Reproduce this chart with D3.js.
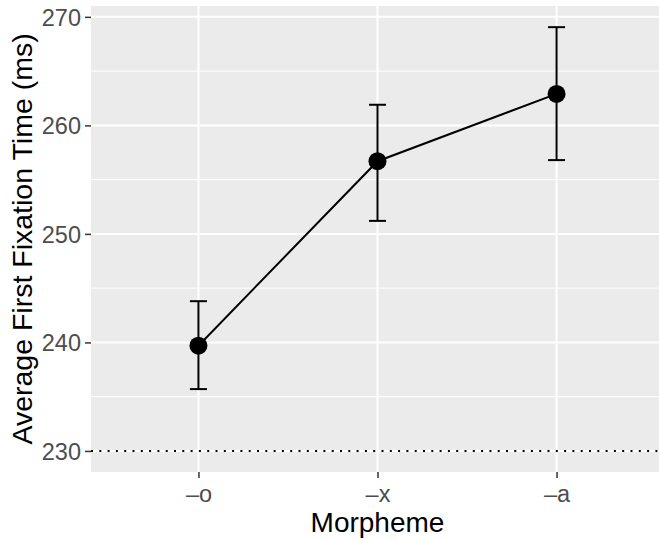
<!DOCTYPE html>
<html>
<head>
<meta charset="utf-8">
<script src="https://cdn.jsdelivr.net/npm/d3@7"></script>
<style>
  body { margin: 0; background: #fff; }
  text { font-family: "Liberation Sans", Arial, sans-serif; }
</style>
</head>
<body>
<div id="chart"></div>
<script>
// data
var morphemes = ["\u2013o", "\u2013x", "\u2013a"];
var means = [239.7, 256.7, 262.9];
var lower = [235.7, 251.2, 256.8];
var upper = [243.8, 261.9, 269.05];
var yTicks = [230, 240, 250, 260, 270];
var yMinor = [235, 245, 255, 265];
var refLine = 230;

var W = 659, H = 539;
var margin = {top: 6, left: 91, bottom: 67};
var plotW = 573, plotH = H - margin.top - margin.bottom;

var svg = d3.select("#chart").append("svg")
  .attr("width", W).attr("height", H);

var g = svg.append("g")
  .attr("transform", "translate(" + margin.left + "," + margin.top + ")");

var x = d3.scalePoint()
  .domain(morphemes)
  .range([0, plotW])
  .padding(0.6);

var y = d3.scaleLinear()
  .domain([228.06, 271.0])
  .range([plotH, 0]);

// panel
g.append("rect")
  .attr("width", plotW).attr("height", plotH)
  .attr("fill", "#EBEBEB");

// minor grid
g.selectAll(".minor")
  .data(yMinor)
  .enter().append("line")
  .attr("x1", 0).attr("x2", plotW)
  .attr("y1", d => y(d)).attr("y2", d => y(d))
  .attr("stroke", "#fff").attr("stroke-width", 1);

// major grid
g.selectAll(".majorY")
  .data(yTicks)
  .enter().append("line")
  .attr("x1", 0).attr("x2", plotW)
  .attr("y1", d => y(d)).attr("y2", d => y(d))
  .attr("stroke", "#fff").attr("stroke-width", 2);

g.selectAll(".majorX")
  .data(morphemes)
  .enter().append("line")
  .attr("x1", d => x(d)).attr("x2", d => x(d))
  .attr("y1", 0).attr("y2", plotH)
  .attr("stroke", "#fff").attr("stroke-width", 2);

// dotted reference line
g.append("line")
  .attr("x1", 0).attr("x2", plotW)
  .attr("y1", y(refLine)).attr("y2", y(refLine))
  .attr("stroke", "#000").attr("stroke-width", 2)
  .attr("stroke-dasharray", "2,6.3");

// axes
var yAxis = g.append("g")
  .call(d3.axisLeft(y).tickValues(yTicks).tickSize(6).tickPadding(4).tickFormat(d3.format("d")));
var xAxis = g.append("g")
  .attr("transform", "translate(0," + plotH + ")")
  .call(d3.axisBottom(x).tickSize(6).tickPadding(7));

[yAxis, xAxis].forEach(function(a) {
  a.select(".domain").remove();
  a.selectAll(".tick line").attr("stroke", "#333").attr("stroke-width", 1.5);
  a.selectAll(".tick text")
    .attr("fill", "#4D4D4D")
    .style("font-size", "23.5px");
});
yAxis.selectAll(".tick text").attr("dy", "0.35em");

// line through means
var line = d3.line()
  .x((d, i) => x(morphemes[i]))
  .y(d => y(d));

g.append("path")
  .datum(means)
  .attr("d", line)
  .attr("fill", "none")
  .attr("stroke", "#000")
  .attr("stroke-width", 2);

// error bars
var bars = g.selectAll(".err")
  .data(morphemes)
  .enter().append("g");

bars.append("line")
  .attr("x1", d => x(d)).attr("x2", d => x(d))
  .attr("y1", (d, i) => y(lower[i])).attr("y2", (d, i) => y(upper[i]))
  .attr("stroke", "#000").attr("stroke-width", 2);
bars.append("line")
  .attr("x1", d => x(d) - 8.5).attr("x2", d => x(d) + 8.5)
  .attr("y1", (d, i) => y(upper[i])).attr("y2", (d, i) => y(upper[i]))
  .attr("stroke", "#000").attr("stroke-width", 2);
bars.append("line")
  .attr("x1", d => x(d) - 8.5).attr("x2", d => x(d) + 8.5)
  .attr("y1", (d, i) => y(lower[i])).attr("y2", (d, i) => y(lower[i]))
  .attr("stroke", "#000").attr("stroke-width", 2);

// points
g.selectAll(".pt")
  .data(morphemes)
  .enter().append("circle")
  .attr("cx", d => x(d))
  .attr("cy", (d, i) => y(means[i]))
  .attr("r", 9)
  .attr("fill", "#000");

// titles
svg.append("text")
  .attr("x", margin.left + plotW / 2)
  .attr("y", 532)
  .attr("text-anchor", "middle")
  .style("font-size", "28px")
  .attr("fill", "#000")
  .text("Morpheme");

svg.append("text")
  .attr("transform", "translate(32," + (margin.top + plotH / 2) + ") rotate(-90)")
  .attr("text-anchor", "middle")
  .style("font-size", "28.5px")
  .attr("fill", "#000")
  .text("Average First Fixation Time (ms)");
</script>
</body>
</html>
